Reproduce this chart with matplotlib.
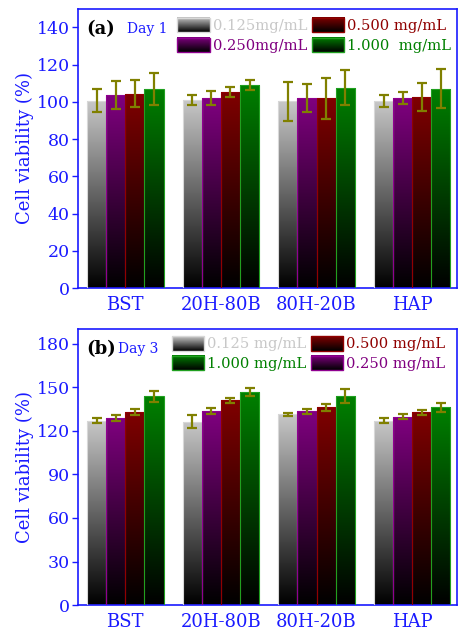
import matplotlib
matplotlib.use("Agg")
import matplotlib.pyplot as plt
import numpy as np
from matplotlib.legend_handler import HandlerBase
from matplotlib.image import BboxImage
from matplotlib.transforms import Bbox, TransformedBbox
from matplotlib.patches import Rectangle, Patch
from matplotlib.colors import to_rgb

plt.rcParams['font.family'] = ['DejaVu Serif']

groups = ["BST", "20H-80B", "80H-20B", "HAP"]
series = ["0.125", "0.250", "0.500", "1.000"]
top_colors = ["#c8c8c8", "#800080", "#800000", "#008000"]
edge_colors = ["#d8d8d8", "#900090", "#900000", "#20a020"]
text_colors = ["#c8c8c8", "#800080", "#900000", "#008000"]

# Day 1 (mean, sd) per series, groups in order
day1_mean = [[100.7, 101.1, 100.4, 100.5],
             [103.5, 102.2, 102.0, 102.0],
             [104.4, 105.5, 102.0, 102.7],
             [107.1, 109.1, 107.6, 107.1]]
day1_err = [[6.0, 2.8, 10.4, 3.3],
            [7.5, 3.6, 7.6, 3.2],
            [7.3, 2.6, 11.0, 7.6],
            [8.5, 2.5, 9.4, 10.4]]
day1_labels = ["0.125mg/mL", "0.250mg/mL", "0.500 mg/mL", "1.000  mg/mL"]

# Day 3
day3_mean = [[126.9, 126.2, 131.5, 126.9],
             [129.0, 133.6, 133.6, 129.7],
             [133.2, 141.0, 136.1, 132.8],
             [143.8, 146.5, 143.8, 136.1]]
day3_err = [[1.7, 4.5, 1.0, 1.6],
            [2.0, 2.1, 1.7, 1.6],
            [2.0, 1.8, 2.3, 1.7],
            [3.7, 2.8, 4.8, 3.2]]
day3_labels = ["0.125 mg/mL", "0.250 mg/mL", "0.500 mg/mL", "1.000 mg/mL"]

BLUE = "#1a1aff"
OLIVE = "#808000"


def grad_array(color, n=256):
    c = np.array(to_rgb(color))
    t = np.linspace(0, 1, n)[:, None]  # 0 at top row -> full color
    arr = (1 - t) * c[None, :]
    return arr[:, None, :]


class GradHandler(HandlerBase):
    def create_artists(self, legend, orig_handle, xdescent, ydescent,
                       width, height, fontsize, trans):
        bb = Bbox.from_bounds(-xdescent, -ydescent, width, height)
        img = BboxImage(TransformedBbox(bb, trans), interpolation='bilinear')
        img.set_data(grad_array(orig_handle.get_facecolor()))
        rect = Rectangle((-xdescent, -ydescent), width, height, fill=False,
                         edgecolor=orig_handle.get_edgecolor(), lw=1,
                         transform=trans)
        return [img, rect]


def panel(ax, means, errs, labels, ymax, yticks, tag, day, day_x, order, leg_anchor):
    x = np.arange(len(groups))
    w = 0.2
    for i in range(4):
        xs = x + (i - 1.5) * w
        bars = ax.bar(xs, means[i], w, facecolor='none',
                      edgecolor=edge_colors[i], lw=0.8, zorder=3)
        for b in bars:
            bx, by = b.get_x(), b.get_y()
            bw, bh = b.get_width(), b.get_height()
            im = ax.imshow(grad_array(top_colors[i]), aspect='auto',
                           extent=[bx, bx + bw, by, by + bh],
                           interpolation='bilinear', zorder=2)
            im.set_clip_path(b)
        ax.errorbar(xs, means[i], yerr=errs[i], fmt='none', ecolor=OLIVE,
                    elinewidth=1.6, capsize=3.5, capthick=1.6, zorder=4)
    ax.set_xlim(-0.494, 3.47)
    ax.set_ylim(0, ymax)
    ax.set_yticks(yticks)
    ax.set_xticks(x)
    ax.set_xticklabels(groups)
    ax.tick_params(axis='x', length=0, labelsize=13, colors=BLUE, pad=6)
    ax.tick_params(axis='y', direction='out', length=4, width=1,
                   labelsize=12.5, colors=BLUE, pad=2)
    for s in ax.spines.values():
        s.set_color(BLUE)
        s.set_linewidth(1.2)
    ax.set_ylabel("Cell viability (%)", color=BLUE, fontsize=13, labelpad=2)
    ax.text(0.022, 0.928, tag, transform=ax.transAxes, fontsize=13,
            fontweight='bold', va='center', ha='left', color='black')
    ax.text(day_x, 0.928, day, transform=ax.transAxes, fontsize=10,
            va='center', ha='left', color=BLUE)
    handles = [Patch(facecolor=top_colors[i], edgecolor=edge_colors[i]) for i in order]
    labs = [labels[i] for i in order]
    ax.legend(handles, labs, handler_map={Patch: GradHandler()},
              loc='upper left', bbox_to_anchor=leg_anchor, ncol=2,
              frameon=False, fontsize=10.6, handlelength=2.2, handleheight=1.15,
              handletextpad=0.2, columnspacing=0.3, labelspacing=0.3,
              borderaxespad=0, borderpad=0,
              labelcolor=[text_colors[i] for i in order])


fig = plt.figure(figsize=(4.59, 6.33), dpi=100)
ax1 = fig.add_axes([0.170, 0.545, 0.826, 0.441])
ax2 = fig.add_axes([0.170, 0.044, 0.826, 0.436])

panel(ax1, day1_mean, day1_err, day1_labels, 150, range(0, 141, 20),
      "(a)", "Day 1", 0.13, [0, 1, 2, 3], (0.262, 0.968))
panel(ax2, day3_mean, day3_err, day3_labels, 190, range(0, 181, 30),
      "(b)", "Day 3", 0.105, [0, 3, 2, 1], (0.248, 0.975))

fig.savefig("out.png", dpi=100)
